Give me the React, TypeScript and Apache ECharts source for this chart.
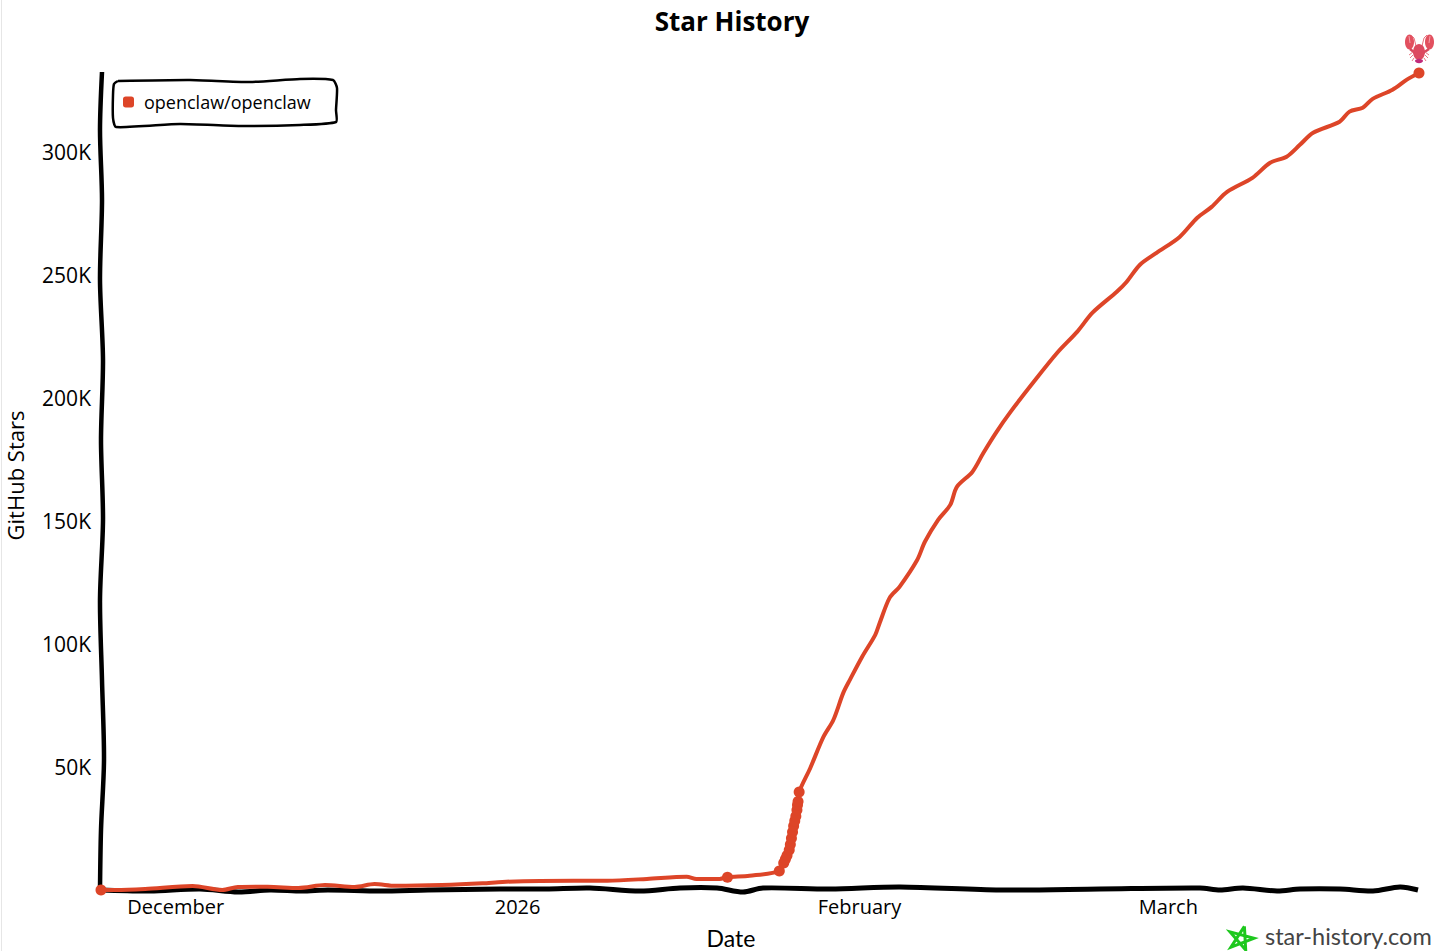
import React, { useEffect, useRef } from "react";
import * as echarts from "echarts";

const START = Date.UTC(2025, 10, 24);
const DAY = 86400000;
const FONT = "'Open Sans', 'Noto Sans', sans-serif";
const FOOT_FONT = "Lato, 'Open Sans', sans-serif";
const COLOR = "#dd4528";

const days = [0, 1.3, 4.0, 8.3, 11.0, 12.4, 15.1, 17.9, 20.3, 23.0, 24.8, 26.7, 30.9, 34.6, 36.4, 39.8, 45.9, 49.5, 53.1, 54.0, 56.1, 56.8, 58.8, 61.5, 61.9, 62.4, 62.7, 63.1, 63.3, 64.3, 65.5, 66.4, 67.3, 67.9, 69.0, 70.2, 70.6, 71.5, 72.4, 74.0, 74.7, 75.9, 77.0, 77.6, 79.0, 80.0, 81.2, 82.4, 84.5, 86.7, 88.5, 89.9, 92.1, 93.0, 94.2, 95.7, 97.8, 99.4, 100.7, 102.1, 104.4, 106, 107.5, 108.7, 109.9, 112.3, 113.2, 114.4, 115.3, 117.1, 118.4, 119.5];
const stars = [0, 0, 0.4, 1.6, 0, 1.2, 1.3, 0.8, 2.0, 1.2, 2.4, 1.7, 2.0, 2.7, 3.3, 3.7, 3.8, 4.5, 5.4, 4.5, 4.5, 5.2, 5.8, 7.7, 11, 16.3, 23.6, 32.5, 39.8, 49.5, 62.2, 69.1, 80.1, 85.4, 94.7, 103.7, 108.5, 118.7, 123.2, 134.1, 141.5, 150.4, 156.5, 163.8, 169.9, 177.6, 186.2, 193.9, 206.1, 218.3, 226.8, 234.6, 243.1, 247.2, 254.1, 258.9, 265.4, 273.2, 277.6, 283.7, 289.4, 295.5, 298, 302.8, 307.7, 312.2, 316.3, 317.9, 321.5, 325.2, 329.3, 332];

const markerDays = [0, 56.8, 61.5, 61.9, 62.05, 62.2, 62.4, 62.5, 62.6, 62.7, 62.8, 62.9, 63.0, 63.1, 63.15, 63.2, 63.3, 119.5];
const markerStars = [0, 5.2, 7.7, 11, 12.5, 14, 16.3, 18.5, 21, 23.6, 26, 28, 30, 32.5, 34.5, 36, 39.8, 332];

const monthTicks = [Date.UTC(2025, 11, 1), Date.UTC(2026, 0, 1), Date.UTC(2026, 1, 1), Date.UTC(2026, 2, 1)];
const monthLabels = ["December", "2026", "February", "March"];
const yTicks = ["", "50K", "100K", "150K", "200K", "250K", "300K"];
const TITLE = "Star History";
const REPO = "openclaw/openclaw";
const X_NAME = "Date";
const Y_NAME = "GitHub Stars";
const SITE = "star-history.com";

const xAxisSketch = [[100, 890], [150, 891], [200, 889], [238, 892], [270, 890], [302, 891], [328, 890], [380, 891], [428, 890], [500, 889], [546, 889], [590, 888], [640, 891], [680, 888], [717, 888], [743, 892], [763, 888], [830, 889], [900, 887], [1000, 890], [1100, 889], [1200, 888], [1220, 890], [1243, 888], [1277, 891], [1300, 889], [1340, 889], [1373, 891], [1400, 887], [1418, 890]];
const yAxisSketch = [[102, 72], [100, 130], [102, 200], [100, 280], [103, 360], [101, 440], [103, 520], [100, 600], [102, 680], [104, 760], [101, 830], [100, 890]];
const legendSketch = [[118, 81], [190, 80], [250, 82], [300, 79], [333, 80], [337, 88], [336, 110], [336, 122], [300, 125], [240, 126], [180, 124], [116, 127], [113, 118], [113, 95], [114, 84], [118, 81]];

export default function App() {
  const ref = useRef<HTMLDivElement>(null);
  useEffect(() => {
    const chart = echarts.init(ref.current!, null, { renderer: "svg" });
    const stroke = (points: number[][], color: string, lineWidth: number) => ({ type: "polyline", shape: { points }, style: { stroke: color, lineWidth, fill: "none" } });
    const lobster: any[] = [
      { type: "ellipse", shape: { cx: 1409.5, cy: 42, rx: 4.5, ry: 7.5 }, style: { fill: "#e2505f" } },
      { type: "ellipse", shape: { cx: 1429.5, cy: 42, rx: 4.5, ry: 7.5 }, style: { fill: "#e2505f" } },
      stroke([[1409, 36], [1410, 43]], "#f4a0a8", 1),
      stroke([[1430, 36], [1429, 43]], "#f4a0a8", 1),
      stroke([[1416, 46], [1414, 38], [1411, 35]], "#e8707e", 1),
      stroke([[1422, 46], [1424, 38], [1427, 35]], "#e8707e", 1),
      stroke([[1410, 49], [1415, 53]], "#d8485c", 2.5),
      stroke([[1429, 49], [1423, 53]], "#d8485c", 2.5),
      stroke([[1413, 52], [1409, 55]], "#e77a86", 1),
      stroke([[1413, 55], [1410, 58]], "#e77a86", 1),
      stroke([[1414, 58], [1412, 61]], "#e77a86", 1),
      stroke([[1425, 52], [1429, 55]], "#e77a86", 1),
      stroke([[1425, 55], [1428, 58]], "#e77a86", 1),
      stroke([[1424, 58], [1426, 61]], "#e77a86", 1),
      { type: "ellipse", shape: { cx: 1419, cy: 52, rx: 6, ry: 8 }, style: { fill: "#dc4a60" } },
      { type: "ellipse", shape: { cx: 1419, cy: 61, rx: 4, ry: 2.2 }, style: { fill: "#c02a7a" } },
    ];
    chart.setOption({
      animation: false,
      backgroundColor: "#ffffff",
      title: {
        text: TITLE,
        left: 727,
        top: 3,
        textAlign: "center",
        textStyle: { fontFamily: FONT, fontSize: 26, fontWeight: "bold", color: "#000" },
      },
      legend: {
        left: 118,
        top: 88,
        icon: "roundRect",
        itemWidth: 11,
        itemHeight: 11,
        itemGap: 8,
        data: [REPO],
        selectedMode: false,
        textStyle: { fontFamily: FONT, fontSize: 18, color: "#000", padding: [0, 0, 0, 5] },
      },
      grid: { left: 101, right: 37, top: 73, bottom: 61, outerBoundsMode: "none" },
      xAxis: {
        type: "value",
        min: START,
        max: START + 119.5 * DAY,
        name: X_NAME,
        nameLocation: "middle",
        nameGap: 36,
        nameTextStyle: { fontFamily: FOOT_FONT, fontSize: 23, color: "#000", padding: [0, 58, 0, 0] },
        axisLine: { show: false },
        axisTick: { show: false },
        splitLine: { show: false },
        axisLabel: {
          customValues: monthTicks,
          margin: 6,
          padding: [0, 5, 0, 0],
          hideOverlap: false,
          fontFamily: FONT,
          fontSize: 20,
          color: "#000",
          formatter: (v: number) => monthLabels[monthTicks.indexOf(v)] ?? "",
        },
      },
      yAxis: {
        type: "value",
        min: 0,
        max: 332,
        interval: 50,
        name: Y_NAME,
        nameLocation: "middle",
        nameGap: 75,
        nameTextStyle: { fontFamily: FONT, fontSize: 22, color: "#000", padding: [0, 0, 0, 12] },
        axisLine: { show: false },
        axisTick: { show: false },
        splitLine: { show: false },
        axisLabel: {
          margin: 10,
          fontFamily: FONT,
          fontSize: 21,
          color: "#000",
          formatter: (v: number) => yTicks[v / 50] ?? "",
        },
      },
      series: [
        {
          name: REPO,
          type: "line",
          showSymbol: false,
          symbol: "roundRect",
          smooth: 0.3,
          clip: false,
          color: COLOR,
          lineStyle: { color: COLOR, width: 4 },
          data: days.map((d, i) => [START + d * DAY, stars[i]]),
          z: 3,
        },
        {
          name: "points",
          type: "scatter",
          symbolSize: 11,
          clip: false,
          itemStyle: { color: COLOR, opacity: 1 },
          data: markerDays.map((d, i) => [START + d * DAY, markerStars[i]]),
          z: 4,
        },
      ],
      graphic: [
        { type: "rect", z: -1, shape: { x: 1, y: 0, width: 1, height: 951 }, style: { fill: "#e6e6e6" } },
        { type: "polyline", z: 1, shape: { points: xAxisSketch, smooth: 0.3 }, style: { stroke: "#000", lineWidth: 5, fill: "none" } },
        { type: "polyline", z: 1, shape: { points: yAxisSketch, smooth: 0.3 }, style: { stroke: "#000", lineWidth: 4.5, fill: "none" } },
        { type: "polyline", z: 1, shape: { points: legendSketch, smooth: 0.2 }, style: { stroke: "#000", lineWidth: 2.5, fill: "none" } },
        ...lobster,
        {
          type: "polyline",
          shape: { points: [[1244.4, 926.4], [1245.7, 950], [1230.1, 931.9], [1254, 938.3], [1230.9, 947.2], [1244.4, 926.4]] },
          style: { stroke: "#1ec81e", lineWidth: 3, fill: "none" },
        },
        {
          type: "text",
          x: 1265,
          y: 924,
          style: { text: SITE, fontFamily: FOOT_FONT, fontSize: 23.5, fill: "#444444" },
        },
      ],
    });
    return () => chart.dispose();
  }, []);
  return <div ref={ref} style={{ position: "absolute", left: 0, top: 0, width: 1456, height: 951 }} />;
}
